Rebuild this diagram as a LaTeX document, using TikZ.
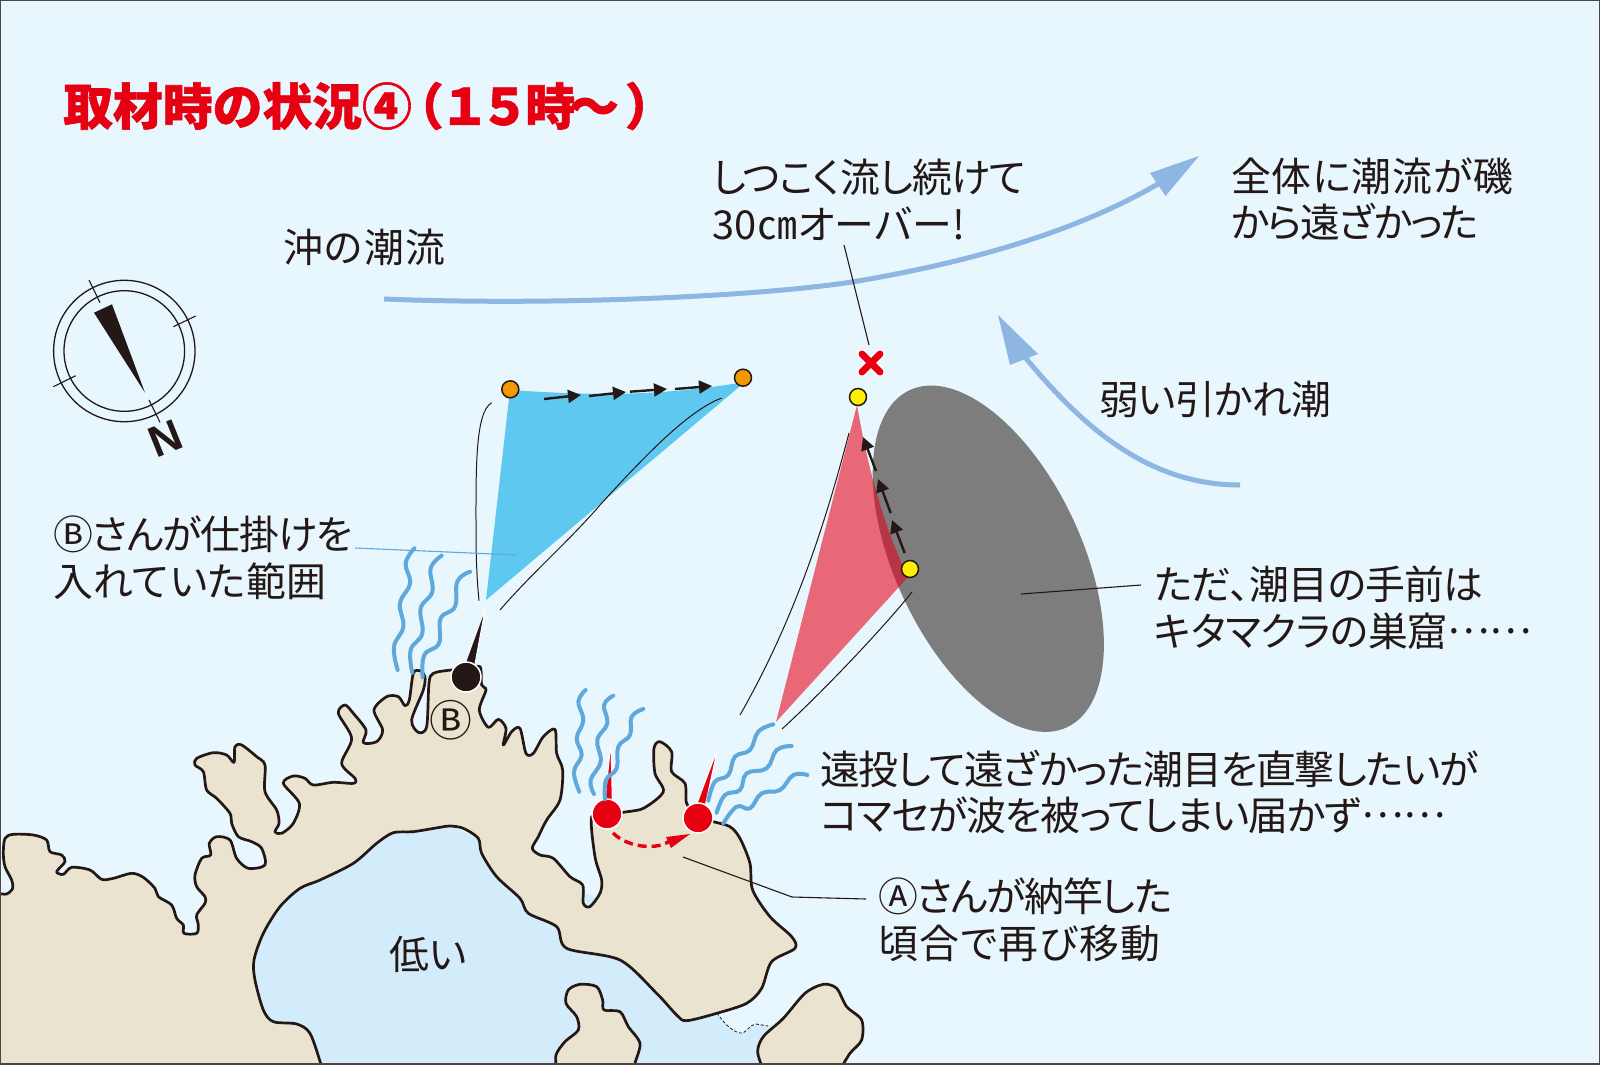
\documentclass[tikz,border=0pt]{standalone}
\usepackage{fontspec}
\usetikzlibrary{arrows.meta}
\setmainfont[RawFeature=+palt]{Noto Sans CJK JP}
\newfontfamily\titlefont{Noto Sans CJK JP}
\newfontfamily\ellfont[RawFeature=+fwid]{Noto Sans CJK JP}
\newfontfamily\nfont{Liberation Sans}
\newcommand{\trk}[2]{{\addfontfeature{LetterSpace=#1}#2}}
\newcommand{\midell}{\raisebox{0.33em}{\ellfont ……}}
\definecolor{sea}{HTML}{E8F6FE}
\definecolor{bay}{HTML}{D3ECFB}
\definecolor{land}{HTML}{EAE3D0}
\definecolor{ink}{HTML}{231815}
\definecolor{wave}{HTML}{5FA8DC}
\definecolor{flow}{HTML}{8DB6E3}
\definecolor{cyanfan}{HTML}{5FC8F0}
\definecolor{pinkfan}{HTML}{E96877}
\definecolor{darkfan}{HTML}{B93545}
\definecolor{rock}{HTML}{7D7D7E}
\definecolor{redmark}{HTML}{E60012}
\definecolor{orangedot}{HTML}{F39800}
\definecolor{yellowdot}{HTML}{FFF000}
\tikzset{
  x=1bp,y=-1bp,
  coast/.style={draw=ink,fill=land,line width=2.7bp,line join=round},
  wavy/.style={draw=wave,line width=4bp,line cap=round},
  thin curve/.style={draw=ink,line width=1bp},
  leader/.style={draw=ink,line width=1.1bp},
  label/.style={anchor=west,inner sep=0pt,align=left,text=ink,font=\fontsize{40}{47}\selectfont},
  floatdot/.style={circle,draw=ink,line width=1.5bp,minimum size=17bp,inner sep=0pt},
  anglerdot/.style={circle,draw=white,line width=1.5bp,minimum size=30bp,inner sep=0pt},
  driftarrow/.style={draw=ink,fill=ink,line width=2.4bp,-{Triangle[length=13bp,width=13bp]}},
  zoomframe/.style={shift={(0,640)},x=0.33333bp,y=-0.33333bp},
}
\begin{document}
\begin{tikzpicture}
\useasboundingbox (0,0) rectangle (1600,1064);
\fill[sea] (0,0) rectangle (1600,1064);
\begin{scope}
\clip (0,0) rectangle (1600,1064);
% inner bay
\fill[bay] (240,1064) -- (240,880) -- (400,800) -- (600,900) -- (717,1013)
  .. controls (725,1025) and (735,1034) .. (743,1033)
  .. controls (748,1030) and (750,1025) .. (756,1024) -- (780,1026) -- (780,1064) -- cycle;
\draw[ink,line width=.8bp,dash pattern=on 3bp off 2bp] (717,1013)
  .. controls (725,1025) and (735,1034) .. (743,1033)
  .. controls (748,1030) and (750,1025) .. (756,1024) -- (768,1026);
\begin{scope}[zoomframe]
% mainland
\draw[coast] plot[smooth,tension=.5] coordinates {
 (-6,760)(20,762)(38,745)(35,720)(15,680)(10,640)(15,595)(40,583)(100,585)(140,600)(150,635)(185,645)(195,665)(170,695)(190,703)(215,682)(270,690)(305,718)(340,715)(395,700)(430,712)(465,745)(475,770)(515,795)(530,835)(550,855)(552,880)(590,880)(595,855)(590,825)(615,790)(615,770)(590,740)(585,705)(605,655)(632,645)(628,610)(650,590)(690,600)(710,655)(745,685)(795,675)(785,625)(755,605)(715,590)(695,550)(690,520)(650,475)(620,450)(610,395)(585,375)(590,355)(640,338)(680,345)(702,367)(705,320)(725,315)(770,350)(795,375)(795,455)(830,510)(837,550)(825,575)(845,580)(880,550)(898,490)(850,430)(880,408)(915,415)(940,435)(1000,427)(1060,430)(1065,415)(1025,370)(1055,295)(1015,220)(1035,195)(1060,220)(1098,270)(1090,308)(1130,305)(1148,270)(1122,210)(1160,170)(1195,170)(1215,197)(1228,180)(1240,100)(1260,92)(1275,110)(1270,150)(1235,240)(1255,277)(1280,260)(1287,130)(1300,100)(1355,90)(1400,90)(1440,80)(1445,135)(1458,150)(1438,210)(1465,262)(1495,238)(1518,265)(1510,315)(1535,275)(1560,265)(1578,340)(1600,340)(1630,290)(1665,268)(1670,340)(1688,390)(1680,480)(1640,540)(1615,590)(1597,625)(1620,645)(1660,655)(1710,710)(1748,735)(1750,790)(1770,800)(1800,760)(1805,720)(1785,650)(1775,530)(1822,530)(1870,517)(1930,505)(1990,455)(1965,400)(1962,325)(1980,305)(2015,335)(2015,395)(2055,430)(2060,490)(2093,530)(2140,545)(2190,560)(2220,595)(2250,670)(2258,750)(2310,830)(2375,890)(2385,925)(2315,965)(2285,1045)(2240,1090)(2150,1120)(2060,1142)(2030,1125)(1970,1060)(1860,960)(1700,925)(1670,860)(1585,820)(1560,775)(1490,710)(1445,640)(1435,595)(1390,565)(1350,558)(1320,562)(1240,575)(1180,578)(1130,610)(1060,670)(960,720)(900,745)(840,800)(790,880)(762,960)(765,1020)(790,1110)(820,1145)(890,1152)(930,1180)(962,1270)(966,1290)
} -- (-6,1290) -- cycle;
% islands
\draw[coast] plot[smooth,tension=.5] coordinates {
 (1670,1290)(1668,1245)(1695,1205)(1735,1170)(1730,1130)(1698,1090)(1705,1050)(1740,1033)(1790,1040)(1808,1080)(1812,1110)(1860,1115)(1885,1160)(1920,1210)(1905,1270)(1905,1290)} -- cycle;
\draw[coast] plot[smooth,tension=.5] coordinates {
 (2290,1290)(2273,1235)(2290,1190)(2350,1135)(2415,1060)(2470,1033)(2510,1045)(2540,1100)(2585,1140)(2585,1200)(2550,1240)(2520,1290)} -- cycle;
\end{scope}
\end{scope}

% title
\node[anchor=west,inner sep=0pt,text=redmark] (title) at (63,106)
  {\titlefont\addfontfeature{FakeBold=1.2}\fontsize{50}{50}\bfseries\selectfont 取材時の状況④\kern-18bp（\kern-4bp １\kern-10bp ５\kern-4bp 時\kern-6bp 〜\kern6bp ）};

% compass
\coordinate (compassC) at (124.3,351);
\draw[ink,line width=1.3bp] (compassC) circle[radius=70.7bp];
\draw[ink,line width=1.3bp] (compassC) circle[radius=60.3bp];
\draw[ink,line width=1.1bp] (89,280) -- (100,302.7);
\draw[ink,line width=1.1bp] (195.7,316) -- (173.3,326.7);
\draw[ink,line width=1.1bp] (53.3,386.7) -- (75.7,375.7);
\draw[ink,line width=1.1bp] (149,400) -- (160,422.3);
\fill[ink] (94,312.7) -- (112,304.3) -- (145,392.7) -- cycle;
\node[inner sep=0pt,text=ink,rotate=22] (north) at (165.5,438.5) {\nfont\bfseries\fontsize{44}{44}\selectfont N};

% currents
\draw[flow,line width=5bp] (384,299) .. controls (560,306) and (760,296) .. (852,282) .. controls (960,264) and (1070,235) .. (1158,184);
\fill[flow] (1199,156) -- (1150,173) -- (1165.5,196) -- cycle;
\draw[flow,line width=5bp] (1240,485) .. controls (1150,485) and (1085,430) .. (1024,356);
\fill[flow] (998,315) -- (1038,354) -- (1010,365) -- cycle;

% rock
\fill[pinkfan] (857,405) .. controls (868,470) and (885,530) .. (908,577) -- (776,722) -- cycle;
\fill[rock] (988.3,558.7) ellipse[x radius=186bp,y radius=93.5bp,rotate=115];
\begin{scope}
\clip (988.3,558.7) ellipse[x radius=186bp,y radius=93.5bp,rotate=115];
\fill[darkfan] (857,405) .. controls (868,470) and (885,530) .. (908,577) -- (776,722) -- cycle;
\end{scope}

% blue fan
\fill[cyanfan] (510,390) .. controls (600,396) and (660,396) .. (745,382) -- (486,600) -- cycle;
\draw[thin curve] (491.7,402.7) .. controls (475,412) and (476,470) .. (476,530) .. controls (476,570) and (478,590) .. (479,600.7);
\draw[thin curve] (721.7,398) .. controls (690,410) and (650,450) .. (600,505) .. controls (570,540) and (530,575) .. (500,610);
\draw[thin curve] (849,433) .. controls (830,505) and (800,610) .. (740,715);
\draw[thin curve] (912,592) .. controls (890,620) and (830,685) .. (782,729);

% drift arrows
\foreach \a/\b/\c/\d in {544/399/581/395,589/396/626/392,630/391.7/667/389,675/389/712/386}{
  \draw[driftarrow] (\a,\b) -- (\c,\d);}
\foreach \a/\b/\c/\d in {876/471/863/437,890.7/513/878/479,904.7/553/892/520}{
  \draw[driftarrow] (\a,\b) -- (\c,\d);}

% float dots
\node[floatdot,fill=orangedot] (o1) at (510.3,389.3) {};
\node[floatdot,fill=orangedot] (o2) at (743,377.7) {};
\node[floatdot,fill=yellowdot] (y1) at (858,397) {};
\node[floatdot,fill=yellowdot] (y2) at (910,569) {};

% catch mark
\draw[white,line width=10bp,line cap=round] (862,354) -- (880,372) (880,354) -- (862,372);
\draw[redmark,line width=7bp,line cap=round] (862,354) -- (880,372) (880,354) -- (862,372);

% anglers
\draw[white,line width=1bp,fill=ink] (462,672) -- (473,675) -- (485.3,608) -- cycle;
\node[anglerdot,fill=ink] (anglerB) at (466,677) {};
\draw[white,line width=1bp,fill=redmark] (604,810) -- (612.5,810) -- (611,742) -- cycle;
\draw[white,line width=1bp,fill=redmark] (693,814) -- (703,816) -- (717.7,748.3) -- cycle;
\node[anglerdot,fill=redmark] (anglerA1) at (607,814) {};
\node[anglerdot,fill=redmark] (anglerA2) at (698,818) {};
\draw[redmark,line width=3.4bp,dash pattern=on 9bp off 5bp] (613,833) .. controls (630,850) and (665,850) .. (672,838);
\fill[redmark] (690,834) -- (666,837) -- (671,848) -- cycle;

% fishing waves
\begin{scope}[shift={(400,640)},x=0.33333bp,y=-0.33333bp]
\draw[wavy] plot[smooth,tension=.7] coordinates {(557,150)(535,185)(550,240)(530,295)(545,345)(522,395)(538,455)};
\draw[wavy] plot[smooth,tension=.7] coordinates {(640,167)(612,195)(622,250)(592,300)(602,365)(572,420)(582,462)};
\draw[wavy] plot[smooth,tension=.7] coordinates {(730,207)(695,230)(690,285)(655,320)(650,385)(618,420)(615,478)};
\draw[wavy] plot[smooth,tension=.7] coordinates {(1120,253)(1075,275)(1050,330)(1005,350)(985,405)(945,425)(925,482)};
\draw[wavy] plot[smooth,tension=.7] coordinates {(1175,318)(1130,330)(1100,385)(1040,400)(1020,450)(975,465)(950,518)};
\draw[wavy] plot[smooth,tension=.7] coordinates {(1222,405)(1180,405)(1140,450)(1085,460)(1050,505)(1010,500)(970,550)};
\end{scope}
\begin{scope}[shift={(370,360)},x=0.33333bp,y=-0.33333bp]
\draw[wavy] plot[smooth,tension=.7] coordinates {(133,565)(107,610)(120,670)(90,730)(100,800)(72,860)(83,930)};
\draw[wavy] plot[smooth,tension=.7] coordinates {(215,587)(182,625)(187,695)(152,745)(157,820)(122,870)(127,938)};
\draw[wavy] plot[smooth,tension=.7] coordinates {(300,635)(262,665)(255,740)(212,775)(207,850)(163,885)(158,952)};
\end{scope}

% labels
\node[label] (oki) at (283,247) {\trk{3.2}{沖の潮流}};
\node[label] (catch) at (712,199.5) {\trk{-1.7}{しつこく流し続けて}\\\trk{1.4}{30㎝オーバー!}};
\node[label] (whole) at (1231,199) {\trk{2.2}{全体に潮流が磯}\\\trk{-4.7}{から遠ざかった}};
\node[label] (weak) at (1099,399) {\trk{-1.7}{弱い引かれ潮}};
\node[label] (bsan) at (53,558) {\trk{-2.6}{Ⓑさんが仕掛けを}\\\trk{1.1}{入れていた範囲}};
\node[label] (nest) at (1154,608) {\trk{-1.7}{ただ、潮目の手前は}\\\trk{-1}{キタマクラの巣窟}\midell};
\node[label] (cast) at (820,792) {\trk{-3.1}{遠投して遠ざかった潮目を直撃したいが}\\\trk{-2.7}{コマセが波を被ってしまい届かず}\midell};
\node[label] (asan) at (878,920) {\trk{-3.2}{Ⓐさんが納竿した}\\\trk{3.3}{頃合で再び移動}};
\node[label] (low) at (389,954) {低い};
\node[inner sep=0pt,text=ink,font=\fontsize{43}{43}\selectfont] (mapB) at (451,720) {Ⓑ};

% leaders
\coordinate (catchEnd) at (869,345);
\coordinate (catchStart) at (844,245);
\draw[leader] (catchStart) -- (catchEnd);
\coordinate (nestA) at (1141,585);
\coordinate (nestB) at (1021,594);
\draw[leader] (nestA) -- (nestB);
\coordinate (asanA) at (866,899);
\coordinate (asanB) at (792,897);
\coordinate (asanC) at (683,857);
\draw[leader] (asanA) -- (asanB) -- (asanC);
\coordinate (bsanA) at (355,548);
\coordinate (bsanB) at (517,555);
\draw[wave,line width=1.1bp] (bsanA) -- (bsanB);

\draw[ink!80,line width=1.6bp] (0,0) rectangle (1600,1064);
\end{tikzpicture}
\end{document}
